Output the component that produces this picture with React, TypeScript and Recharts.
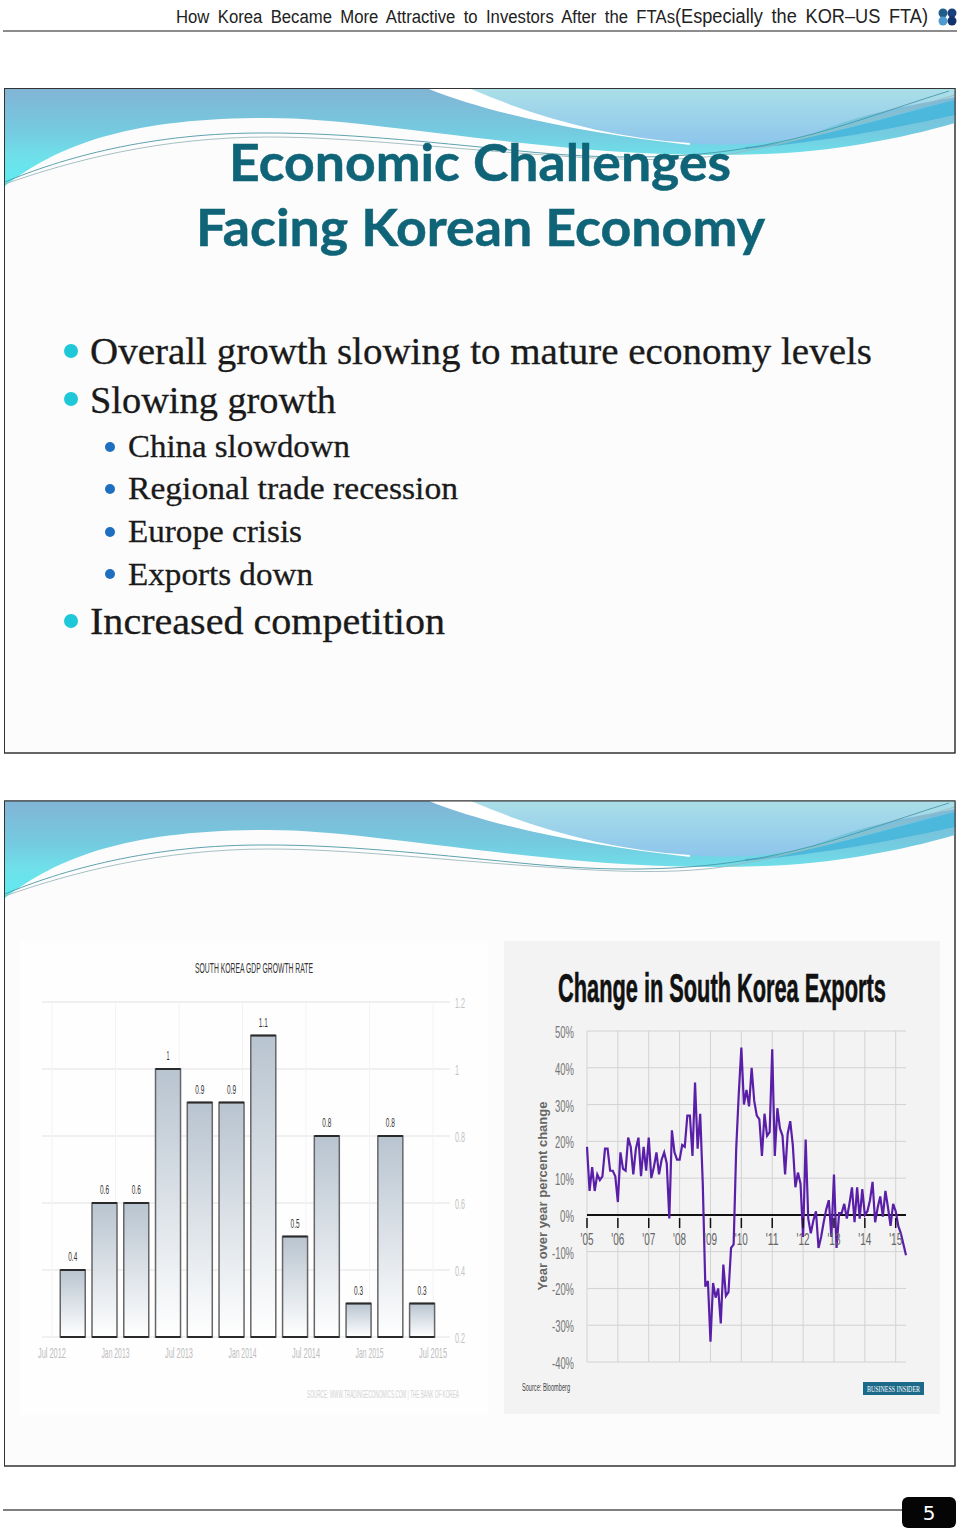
import { BarChart, Bar, LineChart, Line, XAxis, YAxis, CartesianGrid, LabelList, ReferenceLine } from "recharts";

// South Korea GDP growth rate, quarterly. Months are counted from Jul 2012.
const gdpMonths = [2, 5, 8, 11, 14, 17, 20, 23, 26, 29, 32, 35];
const gdpValues = [0.4, 0.6, 0.6, 1, 0.9, 0.9, 1.1, 0.5, 0.8, 0.3, 0.8, 0.3];
const gdpTicks = [0, 6, 12, 18, 24, 30, 36];
const gdpTickLabels = ["Jul 2012", "Jan 2013", "Jul 2013", "Jan 2014", "Jul 2014", "Jan 2015", "Jul 2015"];
const gdpYTicks = [0.2, 0.4, 0.6, 0.8, 1, 1.2];

// Change in South Korea exports, monthly, year over year %
const exports2005 = [18.5, 6.5, 13, 6.5, 11, 9.5, 10.5, 18, 18, 12, 12, 10.5];
const exports2006 = [3.5, 17, 12.5, 12, 21, 18.5, 11, 18, 21, 10.5, 18.5, 12];
const exports2007 = [21, 10, 13, 17, 11, 15, 17, 14, -1, 23, 17, 15];
const exports2008 = [15, 19, 18.5, 27, 27, 16, 36, 18, 27.5, 8.5, -19.5, -18];
const exports2009 = [-34.5, -18.5, -22.5, -20, -29.5, -13.5, -22, -21, -9, -8, 18, 33];
const exports2010 = [45.5, 30, 34, 29.5, 40, 31, 27, 26, 16, 27.5, 21.5, 22.5];
const exports2011 = [45, 16, 29, 23.5, 21.5, 11, 22, 25.5, 19, 7.5, 11.5, 8.5];
const exports2012 = [-6, 20.5, -1, -5, -1.5, 1, -9, -6, -2, 1.5, 4, -6];
const exports2013 = [11, -9, 0.5, 0.5, 3, -1, 3, 7.5, -2, 7.5, -1, 7];
const exports2014 = [0, 1, 4, 9, -2, 2, 5, -0.5, 6.5, 2, -3, 3];
const exports2015 = [1, -3, -5, -8, -11];
const exportValues = [
  ...exports2005, ...exports2006, ...exports2007, ...exports2008, ...exports2009, ...exports2010,
  ...exports2011, ...exports2012, ...exports2013, ...exports2014, ...exports2015,
];
const exportTicks = [0, 12, 24, 36, 48, 60, 72, 84, 96, 108, 120];
const exportTickLabels = ["'05", "'06", "'07", "'08", "'09", "'10", "'11", "'12", "'13", "'14", "'15"];
const exportYTicks = [-40, -30, -20, -10, 0, 10, 20, 30, 40, 50];

const mainBullets = [
  { text: "Overall growth slowing to mature economy levels", y: 364, w: 782, dot: 351 },
  { text: "Slowing growth", y: 413, w: 246, dot: 399 },
  { text: "Increased competition", y: 634, w: 355, dot: 621 },
];
const subBullets = [
  { text: "China slowdown", y: 457, w: 222, dot: 447 },
  { text: "Regional trade recession", y: 499, w: 330, dot: 489 },
  { text: "Europe crisis", y: 542, w: 174, dot: 532 },
  { text: "Exports down", y: 585, w: 185, dot: 574 },
];

const gdpData = gdpMonths.map((m, i) => ({ m, v: gdpValues[i] }));
const exportData = exportValues.map((v, m) => ({ m, v }));

const NARROW = "'Liberation Sans Narrow', 'Liberation Sans', sans-serif";

function Swoosh({ top, id }: { top: number; id: string }) {
  return (
    <g transform={`translate(0 ${top})`} clipPath={`url(#${id}-clip)`}>
      <defs>
        <clipPath id={`${id}-clip`}>
          <rect x={5} y={0} width={950} height={665} />
        </clipPath>
        <linearGradient id={`${id}-dark`} x1="0" y1="0" x2="0" y2="97" gradientUnits="userSpaceOnUse">
          <stop offset="0" stopColor="#82b5d5" />
          <stop offset="0.45" stopColor="#74cbe0" />
          <stop offset="0.7" stopColor="#6fe0ea" />
          <stop offset="1" stopColor="#5cecef" />
        </linearGradient>
        <linearGradient id={`${id}-light`} x1="0" y1="0" x2="0" y2="58" gradientUnits="userSpaceOnUse">
          <stop offset="0" stopColor="#aadfe8" />
          <stop offset="1" stopColor="#8cc4ec" />
        </linearGradient>
      </defs>
      <path d="M5,97 C60,55 130,29 269,29 C340,29 430,45 551,57 C620,64 690,68 765,65 C830,63 900,50 955,34 V0 H5 Z" fill={`url(#${id}-dark)`} />
      <path d="M429,0 C490,25 590,45 690,56 L690,53 L471,0 Z" fill="#fff" />
      <path d="M471,0 C540,30 610,48 690,54 C740,58 790,55 830,38 C880,20 925,14 955,8 V0 Z" fill={`url(#${id}-light)`} />
      <path d="M745,58 C800,55 880,30 955,11 V26 C900,38 830,52 745,60 Z" fill="#4bb8dc" />
      <path d="M5,93 C60,70 150,43 269,44 C340,44 420,52 520,62 C600,70 680,72 765,56 C830,44 890,20 949,2" fill="none" stroke="#4d97a6" strokeWidth={0.9} />
      <path d="M5,95 C70,72 160,48 269,48 C350,48 450,60 560,67 C620,71 690,74 745,62 C820,48 900,22 955,6" fill="none" stroke="#9db8bd" strokeWidth={0.9} />
    </g>
  );
}

function Page() {
  return (
    <svg width={960} height={1528} style={{ position: "absolute", left: 0, top: 0 }}>
      <text x={176} y={23} fontFamily={NARROW} fontSize={18} fill="#222" wordSpacing={4} textLength={499} lengthAdjust="spacingAndGlyphs">
        How Korea Became More Attractive to Investors After the FTAs
      </text>
      <text x={675} y={23} fontFamily={NARROW} fontSize={20} fill="#222" wordSpacing={4} textLength={253} lengthAdjust="spacingAndGlyphs">
        (Especially the KOR–US FTA)
      </text>
      <circle cx={943} cy={13} r={4.5} fill="#1f5e8a" />
      <circle cx={952} cy={13} r={4.5} fill="#1a3f7a" />
      <circle cx={943} cy={21} r={4.5} fill="#4f9ad0" />
      <circle cx={952} cy={21} r={4.5} fill="#12326e" />
      <line x1={3} y1={31} x2={957} y2={31} stroke="#666" strokeWidth={1.5} />

      <rect x={4.5} y={88.5} width={950.5} height={664.5} fill="#fcfcfc" stroke="#333" />
      <Swoosh top={89} id="a" />
      <rect x={4.5} y={88.5} width={950.5} height={664.5} fill="none" stroke="#333" />
      <text x={229} y={181} fontFamily="Lato, sans-serif" fontWeight={700} fontSize={52} fill="#0f6478" stroke="#0f6478" strokeWidth={0.5} textLength={502} lengthAdjust="spacingAndGlyphs">Economic Challenges</text>
      <text x={196} y={246} fontFamily="Lato, sans-serif" fontWeight={700} fontSize={52} fill="#0f6478" stroke="#0f6478" strokeWidth={0.5} textLength={569} lengthAdjust="spacingAndGlyphs">Facing Korean Economy</text>
      {mainBullets.map((b) => (
        <g key={b.text}>
          <circle cx={71} cy={b.dot} r={7} fill="#1fc8d8" />
          <text x={90} y={b.y} fontFamily="'Liberation Serif', serif" fontSize={37} fill="#1a1a1a" stroke="#1a1a1a" strokeWidth={0.3} textLength={b.w} lengthAdjust="spacingAndGlyphs">{b.text}</text>
        </g>
      ))}
      {subBullets.map((b) => (
        <g key={b.text}>
          <circle cx={110} cy={b.dot} r={5} fill="#1f6fc0" />
          <text x={128} y={b.y} fontFamily="'Liberation Serif', serif" fontSize={32} fill="#1a1a1a" stroke="#1a1a1a" strokeWidth={0.3} textLength={b.w} lengthAdjust="spacingAndGlyphs">{b.text}</text>
        </g>
      ))}

      <rect x={4.5} y={801} width={950.5} height={665} fill="#fcfcfc" stroke="#333" />
      <Swoosh top={801} id="b" />
      <rect x={4.5} y={801} width={950.5} height={665} fill="none" stroke="#333" />
      <rect x={20} y={941} width={468} height={474} fill="#fefefe" />
      <rect x={504} y={941} width={436} height={473} fill="#f3f3f3" />

      <text x={195} y={973} fontFamily={NARROW} fontSize={15} fill="#333" textLength={118} lengthAdjust="spacingAndGlyphs">SOUTH KOREA GDP GROWTH RATE</text>
      <text x={307} y={1398} fontFamily={NARROW} fontSize={11} fill="#d2d2d2" textLength={152} lengthAdjust="spacingAndGlyphs">SOURCE: WWW.TRADINGECONOMICS.COM | THE BANK OF KOREA</text>

      <text transform="translate(558 1002) scale(0.55 1)" fontFamily={NARROW} fontWeight={700} fontSize={40} fill="#111" stroke="#111" strokeWidth={0.6} textLength={596} lengthAdjust="spacingAndGlyphs">Change in South Korea Exports</text>
      <text transform="rotate(-90 547 1196)" x={547} y={1196} textAnchor="middle" fontFamily="'Liberation Sans', sans-serif" fontWeight={700} fontSize={13} fill="#666" textLength={189} lengthAdjust="spacingAndGlyphs">Year over year percent change</text>
      <text x={522} y={1391} fontFamily={NARROW} fontSize={10} fill="#444" textLength={48} lengthAdjust="spacingAndGlyphs">Source: Bloomberg</text>
      <rect x={863} y={1382} width={61} height={13} fill="#1c6a8a" />
      <text x={867} y={1392} fontFamily="'Liberation Serif', serif" fontSize={8} fill="#fff" textLength={53} lengthAdjust="spacingAndGlyphs">BUSINESS INSIDER</text>

      <line x1={3} y1={1510} x2={904} y2={1510} stroke="#555" strokeWidth={1.5} />
      <rect x={902} y={1497} width={54} height={31} rx={6} fill="#050505" />
      <text x={929} y={1520} textAnchor="middle" fontFamily="'DejaVu Sans', sans-serif" fontSize={20} fill="#fff">5</text>
    </svg>
  );
}

function GdpBar({ x, y, width, height }: any) {
  return (
    <g>
      <rect x={x} y={y} width={width} height={height} fill="url(#gdpFade)" stroke="#666" strokeWidth={1.5} />
      <line x1={x} y1={y} x2={x + width} y2={y} stroke="#2a2a2a" strokeWidth={2} />
      <line x1={x} y1={y + height} x2={x + width} y2={y + height} stroke="#2a2a2a" strokeWidth={2} />
    </g>
  );
}

function GdpXTick({ x, y, index }: any) {
  return (
    <text x={x} y={y + 13} textAnchor="middle" fontFamily={NARROW} fontSize={15} fill="#bdbdbd" textLength={28} lengthAdjust="spacingAndGlyphs">
      {gdpTickLabels[index]}
    </text>
  );
}

function GdpYTick({ y, payload }: any) {
  const label = String(payload.value);
  return (
    <text x={435} y={y + 6} fontFamily={NARROW} fontSize={15} fill="#c4c4c4" textLength={label.length > 1 ? 10 : 4} lengthAdjust="spacingAndGlyphs">
      {label}
    </text>
  );
}

function GdpValueLabel({ x, y, width, value }: any) {
  const label = String(value);
  return (
    <text x={x + width / 2} y={y - 9} textAnchor="middle" fontFamily={NARROW} fontSize={12} fill="#333" textLength={label.length > 1 ? 9 : 3} lengthAdjust="spacingAndGlyphs">
      {label}
    </text>
  );
}

function GdpChart() {
  return (
    <div style={{ position: "absolute", left: 20, top: 960 }}>
      <BarChart width={470} height={420} data={gdpData} margin={{ top: 42, right: 0, bottom: 13, left: 22 }}>
        <defs>
          <linearGradient id="gdpFade" x1="0" y1="0" x2="0" y2="1">
            <stop offset="0" stopColor="#b8c4d0" />
            <stop offset="1" stopColor="#ffffff" />
          </linearGradient>
        </defs>
        <CartesianGrid vertical={false} syncWithTicks stroke="#ebebeb" strokeWidth={1.5} />
        <CartesianGrid horizontal={false} syncWithTicks stroke="#f3f3f3" />
        <XAxis dataKey="m" type="number" domain={[-0.94, 37.6]} ticks={gdpTicks} interval={0} height={30} axisLine={false} tickLine={false} tick={<GdpXTick />} />
        <YAxis orientation="right" width={40} domain={[0.2, 1.2]} ticks={gdpYTicks} axisLine={false} tickLine={false} tick={<GdpYTick />} />
        <Bar dataKey="v" barSize={25} isAnimationActive={false} shape={<GdpBar />}>
          <LabelList dataKey="v" content={<GdpValueLabel />} />
        </Bar>
      </BarChart>
    </div>
  );
}

function ExportXTick({ x, y, index }: any) {
  // the axis sits on the 0% line, so marks and labels are lifted from the plot bottom
  const zero = y - 147;
  return (
    <g>
      <line x1={x} y1={zero - 5} x2={x} y2={zero + 5} stroke="#111" strokeWidth={1.5} />
      <text x={x} y={zero + 29} dy={-7} textAnchor="middle" fontFamily={NARROW} fontSize={17} fill="#666" textLength={13} lengthAdjust="spacingAndGlyphs">
        {exportTickLabels[index]}
      </text>
    </g>
  );
}

function ExportYTick({ y, payload }: any) {
  const label = `${payload.value}%`;
  const w = payload.value < 0 ? 22 : payload.value === 0 ? 14 : 19;
  return (
    <text x={70} y={y + 7} textAnchor="end" fontFamily={NARROW} fontSize={17} fill="#777" textLength={w} lengthAdjust="spacingAndGlyphs">
      {label}
    </text>
  );
}

function ExportChart() {
  return (
    <div style={{ position: "absolute", left: 504, top: 1010 }}>
      <LineChart width={436} height={380} data={exportData} margin={{ top: 21, right: 34, bottom: 8, left: 0 }}>
        <CartesianGrid syncWithTicks stroke="#d2d2d2" />
        <XAxis dataKey="m" type="number" domain={[0, 124]} ticks={exportTicks} interval={0} height={20} axisLine={false} tickLine={false} tick={<ExportXTick />} />
        <YAxis width={83} domain={[-40, 50]} ticks={exportYTicks} interval={0} axisLine={false} tickLine={false} tick={<ExportYTick />} />
        <ReferenceLine y={0} stroke="#111" strokeWidth={2} />
        <Line dataKey="v" type="linear" stroke="#5a1fa8" strokeWidth={2.2} dot={false} isAnimationActive={false} />
      </LineChart>
    </div>
  );
}

export default function App() {
  return (
    <div style={{ position: "absolute", left: 0, top: 0, width: 960, height: 1528 }}>
      <Page />
      <GdpChart />
      <ExportChart />
    </div>
  );
}
